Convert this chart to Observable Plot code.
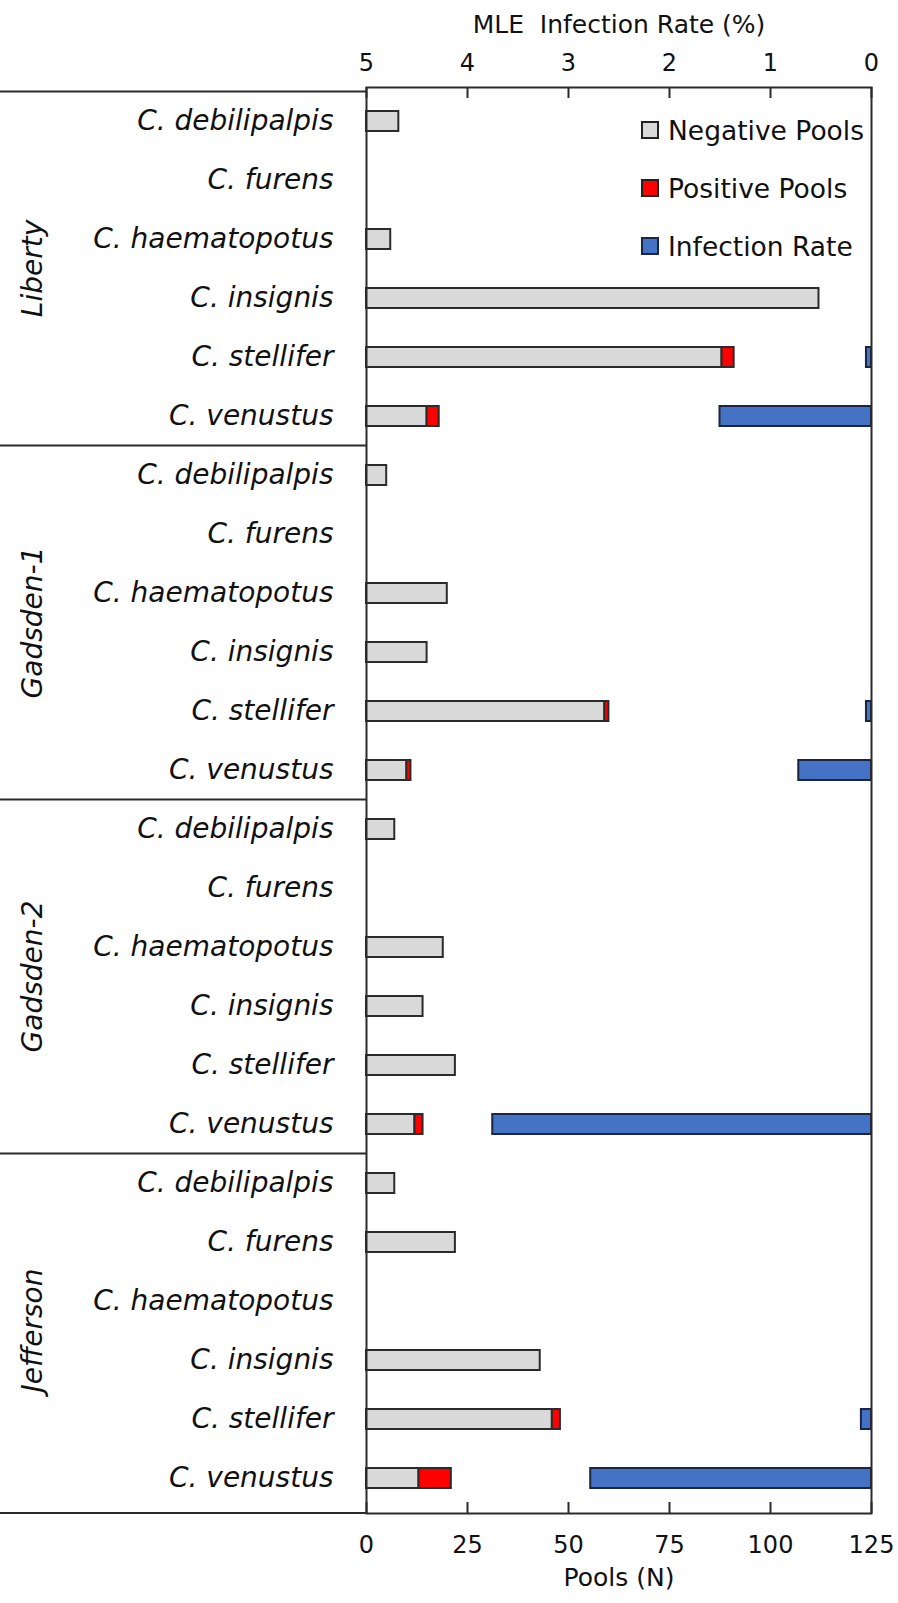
<!DOCTYPE html>
<html>
<head>
<meta charset="utf-8">
<script src="https://cdn.jsdelivr.net/npm/d3@7"></script>
<script src="https://cdn.jsdelivr.net/npm/@observablehq/plot@0.6"></script>
<style>
  html, body { margin: 0; padding: 0; background: #fff; }
  #wrap { position: relative; width: 898px; height: 1603px; font-family: "DejaVu Sans", sans-serif; }
  g[aria-label="y-axis tick label"] text { font-style: italic; }
  .legend { position: absolute; left: 641px; top: 101px; font-family: "DejaVu Sans", sans-serif; font-size: 26.5px; color: #111; }
  .legend .row { display: flex; align-items: center; height: 58px; }
  .legend .sw { width: 18px; height: 18px; box-sizing: border-box; border: 2px solid #222; margin-right: 9px; }
</style>
</head>
<body>
<div id="wrap"></div>
<script>
// ---- data ----
const groups = ["Liberty", "Gadsden-1", "Gadsden-2", "Jefferson"];
const species = ["C. debilipalpis", "C. furens", "C. haematopotus", "C. insignis", "C. stellifer", "C. venustus"];

// Negative pools (N), per group, in species order
const negLiberty   = [8, 0, 6, 112, 88, 15];
const negGadsden1  = [5, 0, 20, 15, 59, 10];
const negGadsden2  = [7, 0, 19, 14, 22, 12];
const negJefferson = [7, 22, 0, 43, 46, 13];

// Positive pools (N)
const posLiberty   = [0, 0, 0, 0, 3, 3];
const posGadsden1  = [0, 0, 0, 0, 1, 1];
const posGadsden2  = [0, 0, 0, 0, 0, 2];
const posJefferson = [0, 0, 0, 0, 2, 8];

// MLE infection rate (%)
const rateLiberty   = [0, 0, 0, 0, 0.05, 1.5];
const rateGadsden1  = [0, 0, 0, 0, 0.05, 0.72];
const rateGadsden2  = [0, 0, 0, 0, 0, 3.75];
const rateJefferson = [0, 0, 0, 0, 0.1, 2.78];

const poolTicks = [0, 25, 50, 75, 100, 125];
const poolsMax = 125;
const rateMax = 5;

const legendLabels = ["Negative Pools", "Positive Pools", "Infection Rate"];
const legendColors = ["#d9d9d9", "#ff0000", "#4472c4"];

// ---- table built from the arrays ----
const negBy = [negLiberty, negGadsden1, negGadsden2, negJefferson];
const posBy = [posLiberty, posGadsden1, posGadsden2, posJefferson];
const rateBy = [rateLiberty, rateGadsden1, rateGadsden2, rateJefferson];
const rows = [];
groups.forEach((g, gi) => species.forEach((s, si) => rows.push({
  group: g, species: s, key: g + "|" + s,
  neg: negBy[gi][si], pos: posBy[gi][si], rate: rateBy[gi][si]
})));
const keys = rows.map(d => d.key);
const firstKeys = groups.map(g => g + "|" + species[0]);
const midKeys = groups.map(g => g + "|" + species[2]);
// the infection-rate axis runs from rateMax (left) to 0 (right) over the same frame
const rateToPools = r => (rateMax - r) * poolsMax / rateMax;

const W = 898, H = 1603, mL = 366, mR = 27, mT = 87, mB = 90;
const frameH = H - mT - mB;
const ink = "#2b2b2b";

function separators(index, scales, values, dims) {
  const y = scales.y;
  const step = y.step(), bw = y.bandwidth();
  const g = d3.create("svg:g").attr("stroke", ink).attr("stroke-width", 2);
  const ys = firstKeys.map(k => y(k) - (step - bw) / 2);
  ys.push(dims.height - dims.marginBottom);
  for (const yy of ys) {
    g.append("line").attr("x1", 0).attr("x2", dims.marginLeft).attr("y1", yy).attr("y2", yy);
  }
  return g.node();
}

function groupLabels(index, scales, values, dims) {
  const y = scales.y;
  const step = y.step(), bw = y.bandwidth();
  const g = d3.create("svg:g")
    .attr("font-family", "DejaVu Sans")
    .attr("font-size", 28)
    .attr("font-style", "italic")
    .attr("fill", "#111")
    .attr("text-anchor", "middle");
  groups.forEach((name, i) => {
    const cy = y(midKeys[i]) + bw / 2 + step / 2;
    g.append("text")
      .attr("transform", `translate(32,${cy}) rotate(-90)`)
      .attr("dy", "0.35em")
      .text(name);
  });
  return g.node();
}

const chart = Plot.plot({
  width: W,
  height: H,
  marginLeft: mL,
  marginRight: mR,
  marginTop: mT,
  marginBottom: mB,
  style: { fontFamily: "DejaVu Sans", fontSize: "24px", color: "#111", background: "#fff", overflow: "visible" },
  x: { domain: [0, poolsMax], axis: null },
  y: { domain: keys, paddingInner: 0.66, paddingOuter: 0.33, axis: null },
  marks: [
    Plot.barX(rows.filter(d => d.neg > 0), { x1: 0, x2: "neg", y: "key", fill: legendColors[0], stroke: ink, strokeWidth: 2 }),
    Plot.barX(rows.filter(d => d.pos > 0), { x1: "neg", x2: d => d.neg + d.pos, y: "key", fill: legendColors[1], stroke: ink, strokeWidth: 2 }),
    Plot.barX(rows.filter(d => d.rate > 0), { x1: d => rateToPools(d.rate), x2: poolsMax, y: "key", fill: legendColors[2], stroke: "#1c2540", strokeWidth: 2 }),
    Plot.ruleX(poolTicks, { x: d => d, insetBottom: frameH - 11, stroke: ink, strokeWidth: 2 }),
    Plot.ruleX(poolTicks, { x: d => d, insetTop: frameH - 11, stroke: ink, strokeWidth: 2 }),
    Plot.frame({ stroke: ink, strokeWidth: 2 }),
    separators,
    groupLabels,
    Plot.axisX(poolTicks, { anchor: "bottom", tickSize: 0, tickPadding: 22, label: null, fontSize: 24 }),
    Plot.axisX(poolTicks, { anchor: "top", tickSize: 0, tickPadding: 17, label: null, fontSize: 24,
      tickFormat: d => String(rateMax - d * rateMax / poolsMax) }),
    Plot.axisY(keys, { anchor: "left", tickSize: 0, tickPadding: 33, label: null, fontSize: 28, fontStyle: "italic",
      tickFormat: k => k.split("|")[1] }),
    Plot.text(["MLE  Infection Rate (%)"], { frameAnchor: "top", dy: -72, fontSize: 25, text: d => d }),
    Plot.text(["Pools (N)"], { frameAnchor: "bottom", dy: 72, fontSize: 25, text: d => d })
  ]
});

const wrap = document.getElementById("wrap");
wrap.appendChild(chart);

const legend = document.createElement("div");
legend.className = "legend";
legendLabels.forEach((lab, i) => {
  const row = document.createElement("div");
  row.className = "row";
  const sw = document.createElement("span");
  sw.className = "sw";
  sw.style.background = legendColors[i];
  if (i === 2) sw.style.borderColor = "#1c2540";
  const t = document.createElement("span");
  t.textContent = lab;
  row.appendChild(sw);
  row.appendChild(t);
  legend.appendChild(row);
});
wrap.appendChild(legend);
</script>
</body>
</html>
